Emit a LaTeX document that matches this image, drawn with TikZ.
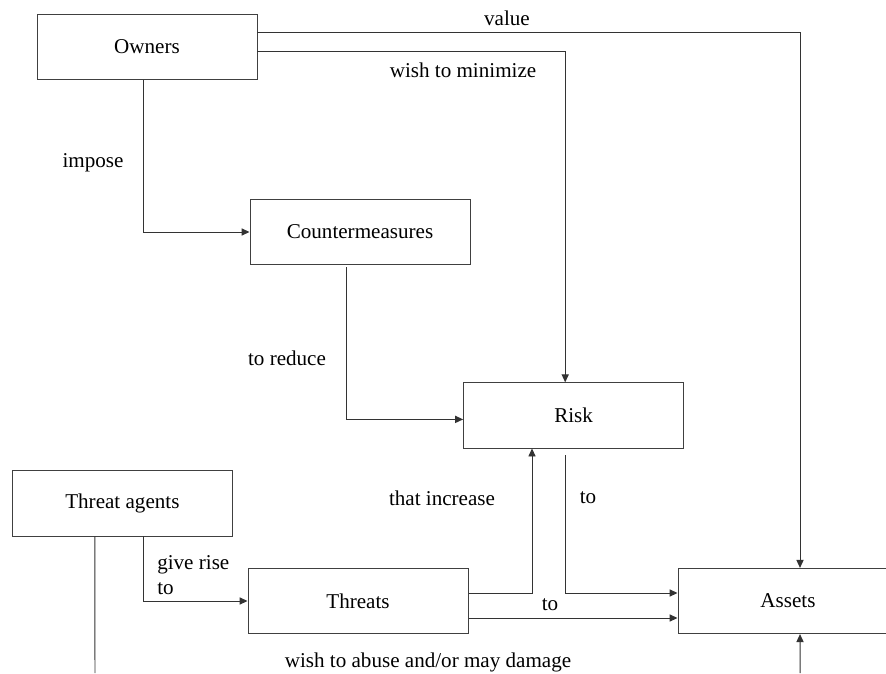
\documentclass[tikz,border=0pt]{standalone}
\usepackage{fontspec}
\setmainfont{Liberation Serif}
\usetikzlibrary{arrows.meta,calc}

\begin{document}
\begin{tikzpicture}[
  every node/.style={font=\fontsize{15}{18}\selectfont},
  box/.style={draw=black!75,line width=0.7pt,minimum width=5.5cm,minimum height=1.63cm,inner sep=0pt},
  flow/.style={-{Triangle[length=2mm,width=1.8mm]},line width=0.7pt,color=black!80},
  link/.style={line width=0.7pt,color=black!80},
  label/.style={inner sep=0pt,color=black}
]
\clip (0,0) rectangle (22.15,16.825);

% Boxes.
\node[box] (owners) at (3.675,15.65) {Owners};
\node[box] (counter) at (9.0,11.025) {Countermeasures};
\node[box] (risk) at (14.34,6.44) {Risk};
\node[box] (agents) at (3.06,4.24) {Threat agents};
\node[box] (threats) at (8.95,1.8) {Threats};
\node[box] (assets) at (19.7,1.8) {Assets};
\coordinate (agentsend) at (2.375,0);
\coordinate (assetsin) at (20.0,0);

% Owners.
\draw[flow] ([yshift=3.75mm]owners.east) -| ([xshift=3mm]assets.north);
\node[label] (value) at (12.675,16.375) {value};
\draw[flow] ([yshift=-1mm]owners.east) -| ([xshift=-2.1mm]risk.north);
\node[label] (minimize) at (11.575,15.075) {wish to minimize};
\draw[flow] ([xshift=-1mm]owners.south) |- (counter.west);
\node[label] (impose) at (2.325,12.75) {impose};

% Countermeasures and risk.
\draw[flow,shorten <=0.5mm] ([xshift=-3.5mm]counter.south) |- ([yshift=-1mm]risk.west);
\node[label] (reduce) at (7.175,7.875) {to reduce};
\draw[flow,shorten <=1.75mm] ([xshift=-2.1mm]risk.south) |- ([yshift=2mm]assets.west);
\node[label] (torisk) at (14.7,4.375) {to};

% Threat agents and threats.
\draw[link] ([xshift=-6.875mm]agents.south) -- (agentsend);
\draw[flow] ([xshift=5.15mm]agents.south) |- (threats.west);
\node[label,align=left,anchor=west] (riseto) at (3.925,2.45) {give rise\\to};
\draw[flow] ([yshift=2mm]threats.east) -| ([xshift=-10.4mm]risk.south);
\node[label] (increase) at (11.05,4.375) {that increase};
\draw[flow] ([yshift=-4.25mm]threats.east) -- ([yshift=-4.25mm]assets.west);
\node[label] (toassets) at (13.75,1.7) {to};
\node[label] (abuse) at (10.7,0.275) {wish to abuse and/or may damage};
\draw[flow] (assetsin) -- ([xshift=3mm]assets.south);
\end{tikzpicture}
\end{document}
